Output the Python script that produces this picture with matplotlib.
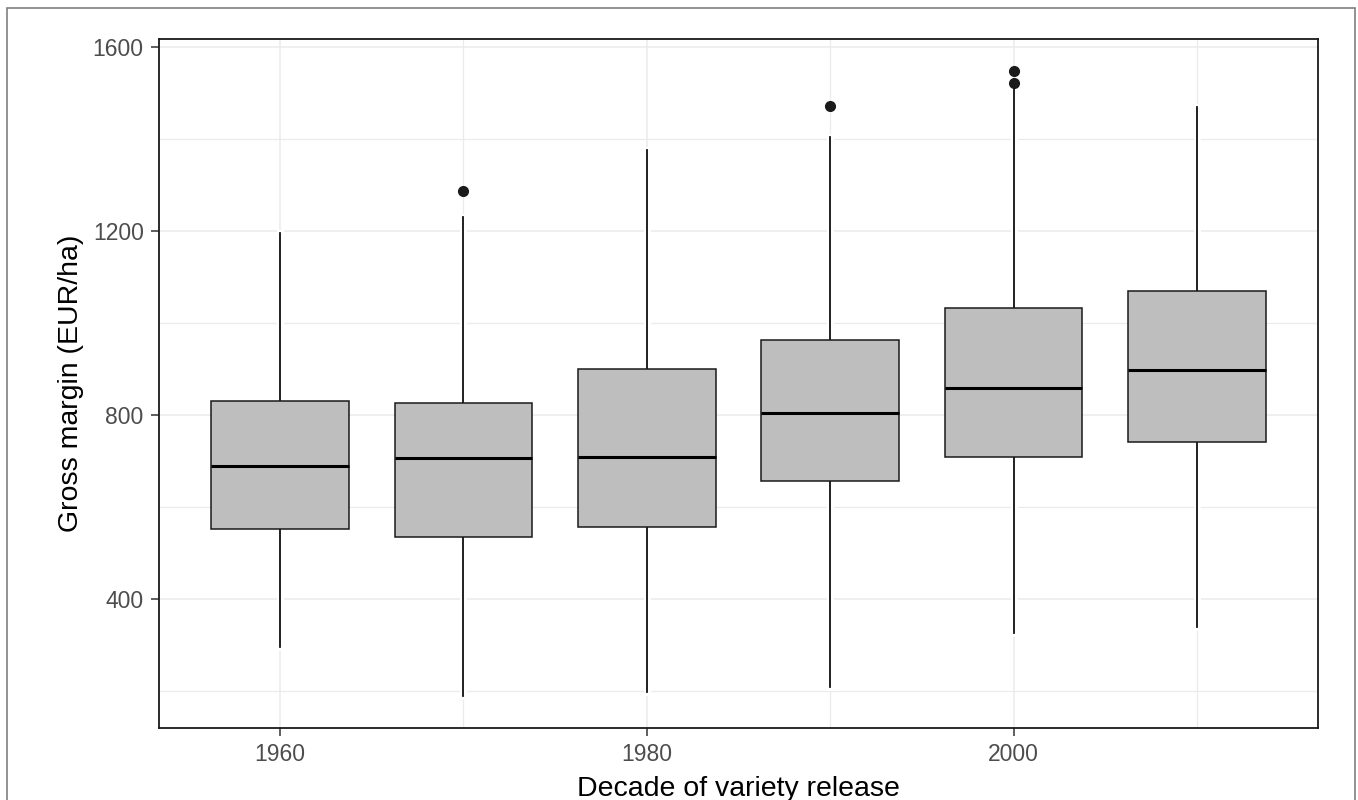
import matplotlib.pyplot as plt
import matplotlib.patheffects as pe
from matplotlib.patches import Rectangle

plt.rcParams['font.family'] = ['Liberation Sans', 'DejaVu Sans']

# box statistics per decade (EUR/ha)
decades = [1960, 1970, 1980, 1990, 2000, 2010]
whisker_low = [297, 190, 199, 210, 326, 339]
q1 = [553, 536, 556, 657, 710, 742]
median = [689, 707, 708, 804, 859, 898]
q3 = [831, 827, 900, 963, 1032, 1070]
whisker_high = [1196, 1231, 1376, 1405, 1517, 1469]
outliers = [[], [1286], [], [1472], [1522, 1548], []]

stats = []
for i, d in enumerate(decades):
    stats.append(dict(label=str(d), whislo=whisker_low[i], q1=q1[i], med=median[i],
                      q3=q3[i], whishi=whisker_high[i], fliers=outliers[i]))

fig = plt.figure(figsize=(13.58, 8), dpi=100)
ax = fig.add_axes([159 / 1358, 72 / 800, (1318 - 159) / 1358, (728 - 39) / 800])

halo = [pe.withStroke(linewidth=5, foreground='white'), pe.Normal()]
bp = ax.bxp(stats, positions=decades, widths=7.5, patch_artist=True, showcaps=False,
            boxprops=dict(facecolor='#BEBEBE', edgecolor='#1a1a1a', linewidth=1.1),
            medianprops=dict(color='black', linewidth=2.2),
            whiskerprops=dict(color='#1a1a1a', linewidth=1.1),
            flierprops=dict(marker='o', markerfacecolor='#1a1a1a', markeredgecolor='#1a1a1a',
                            markersize=7))
for w in bp['whiskers']:
    w.set_path_effects(halo)
    w.set_zorder(1.8)
for b in bp['boxes']:
    b.set_zorder(2)
for m in bp['medians']:
    m.set_zorder(2.2)

ax.set_xlim(1953.4, 2016.6)
ax.set_ylim(120, 1617.4)
ax.set_xticks([1960, 1980, 2000])
ax.set_xticklabels(['1960', '1980', '2000'])
ax.set_xticks([1970, 1990, 2010], minor=True)
ax.set_yticks([400, 800, 1200, 1600])
ax.set_yticks([200, 600, 1000, 1400], minor=True)

ax.set_axisbelow(True)
ax.grid(which='major', color='#EBEBEB', linewidth=1.1)
ax.grid(which='minor', color='#EBEBEB', linewidth=0.9)
ax.tick_params(which='minor', length=0)
ax.tick_params(which='major', length=6, width=1.1, color='#333333',
               labelsize=16.5, labelcolor='#4D4D4D', pad=5)
for s in ax.spines.values():
    s.set_color('#1a1a1a')
    s.set_linewidth(1.3)

ax.set_xlabel('Decade of variety release', fontsize=20.5, labelpad=7)
ax.set_ylabel('Gross margin (EUR/ha)', fontsize=20.5, labelpad=6)

# outer frame of the picture
fig.patches.append(Rectangle((7 / 1358, -0.1), (1355 - 7) / 1358, 1.1 - 8 / 800,
                             transform=fig.transFigure, fill=False,
                             edgecolor='#7f7f7f', linewidth=1.2))

fig.savefig('out.png', dpi=100)
